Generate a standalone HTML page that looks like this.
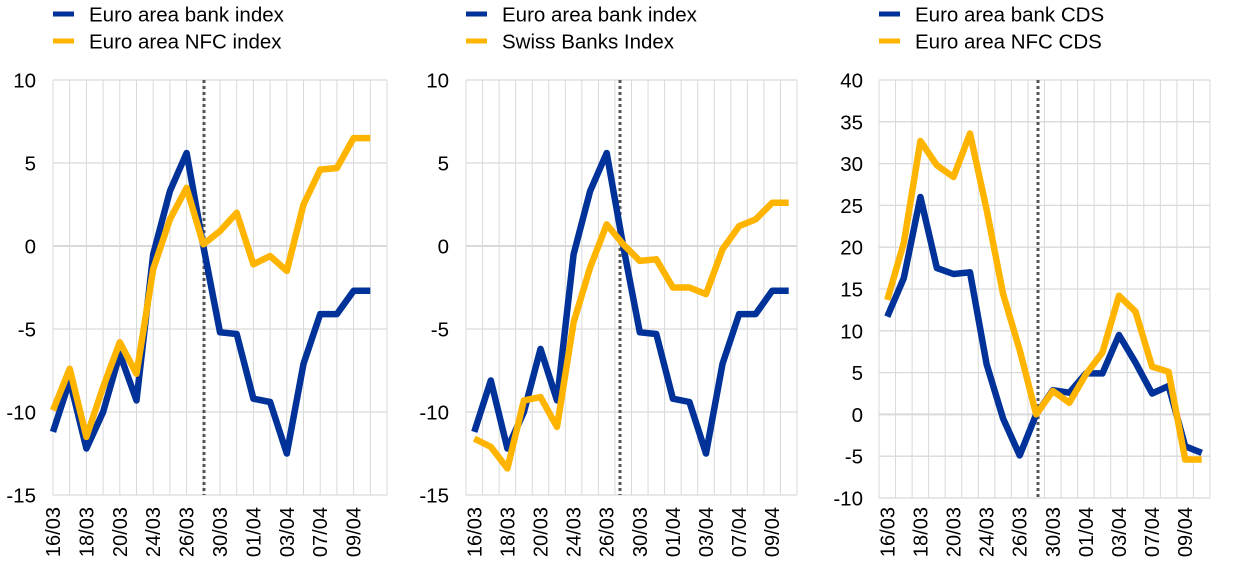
<!DOCTYPE html>
<html><head><meta charset="utf-8"><style>
html,body{margin:0;padding:0;background:#fff;}
svg{display:block;font-family:"Liberation Sans",Arial,sans-serif;}
</style></head><body>
<svg id="s" width="1240" height="569" viewBox="0 0 1240 569" xmlns="http://www.w3.org/2000/svg"></svg>
<script>
const B='#003299',O='#FFB400';
const labels=['16/03','18/03','20/03','24/03','26/03','30/03','01/04','03/04','07/04','09/04'];
const charts=[
 {x0:53,x1:387,y0:80,y1:495,min:-15,max:10,step:5,half:false,dot:204,labR:36,
  leg:[53,'Euro area bank index','Euro area NFC index'],
  b:[-11.2,-8.1,-12.2,-10,-6.5,-9.3,-0.5,3.3,5.6,0,-5.2,-5.3,-9.2,-9.4,-12.5,-7.1,-4.1,-4.1,-2.7,-2.7],
  o:[-9.9,-7.4,-11.5,-8.5,-5.8,-7.7,-1.4,1.6,3.5,0.1,0.9,2,-1.1,-0.6,-1.5,2.5,4.6,4.7,6.5,6.5]},
 {x0:466,x1:797,y0:80,y1:495,min:-15,max:10,step:5,half:true,dot:620,labR:449,
  leg:[466,'Euro area bank index','Swiss Banks Index'],
  b:[-11.2,-8.1,-12.2,-10,-6.2,-9.3,-0.5,3.3,5.6,0,-5.2,-5.3,-9.2,-9.4,-12.5,-7.1,-4.1,-4.1,-2.7,-2.7],
  o:[-11.6,-12.1,-13.4,-9.3,-9.1,-10.9,-4.6,-1.3,1.3,0.1,-0.9,-0.8,-2.5,-2.5,-2.9,-0.2,1.2,1.6,2.6,2.6]},
 {x0:879,x1:1210,y0:80,y1:498,min:-10,max:40,step:5,half:true,dot:1038,labR:863,
  leg:[879,'Euro area bank CDS','Euro area NFC CDS'],
  b:[11.7,16.3,26,17.5,16.8,17,6,-0.5,-4.9,0,2.9,2.6,4.9,4.9,9.5,6.2,2.5,3.4,-3.8,-4.6],
  o:[13.7,20.5,32.7,29.8,28.4,33.6,24.5,14.4,7.7,0,2.8,1.4,4.8,7.4,14.2,12.3,5.7,5.1,-5.4,-5.4]}
];
let h='';
for(const c of charts){
 const cw=(c.x1-c.x0)/20;
 const X=i=>c.x0+(c.half?cw/2:0)+i*cw;
 const Y=v=>c.y1-(v-c.min)/(c.max-c.min)*(c.y1-c.y0);
 for(let i=0;i<=20;i++){const x=c.x0+i*cw;h+=`<line x1="${x}" y1="${c.y0}" x2="${x}" y2="${c.y1}" stroke="#d9d9d9" stroke-width="1"/>`;}
 for(let v=c.min;v<=c.max;v+=c.step){const y=Y(v);
  h+=`<line x1="${c.x0}" y1="${y}" x2="${c.x1}" y2="${y}" stroke="#d9d9d9" stroke-width="${v==0?2:1.3}"/>`;
  h+=`<text x="${c.labR}" y="${y+7.5}" font-size="20.5" text-anchor="end" fill="#000">${v}</text>`;}
 h+=`<line x1="${c.dot}" y1="${c.y0}" x2="${c.dot}" y2="${c.y1}" stroke="#555" stroke-width="3" stroke-dasharray="3,3"/>`;
 const path=a=>a.map((v,i)=>(i?'L':'M')+X(i).toFixed(1)+','+Y(v).toFixed(1)).join(' ');
 h+=`<path d="${path(c.b)}" fill="none" stroke="${B}" stroke-width="6.5" stroke-linejoin="round"/>`;
 h+=`<path d="${path(c.o)}" fill="none" stroke="${O}" stroke-width="6.5" stroke-linejoin="round"/>`;
 labels.forEach((t,j)=>{const x=X(j*2)+7;
  h+=`<text transform="translate(${x},507) rotate(-90)" font-size="20" text-anchor="end" fill="#000">${t}</text>`;});
 const lx=c.leg[0];
 h+=`<line x1="${lx}" y1="14" x2="${lx+21}" y2="14" stroke="${B}" stroke-width="5"/>`;
 h+=`<text x="${lx+36}" y="21.5" font-size="20.5" fill="#000">${c.leg[1]}</text>`;
 h+=`<line x1="${lx}" y1="41" x2="${lx+21}" y2="41" stroke="${O}" stroke-width="5"/>`;
 h+=`<text x="${lx+36}" y="48.5" font-size="20.5" fill="#000">${c.leg[2]}</text>`;
}
document.getElementById('s').innerHTML=h;
</script>
</body></html>
